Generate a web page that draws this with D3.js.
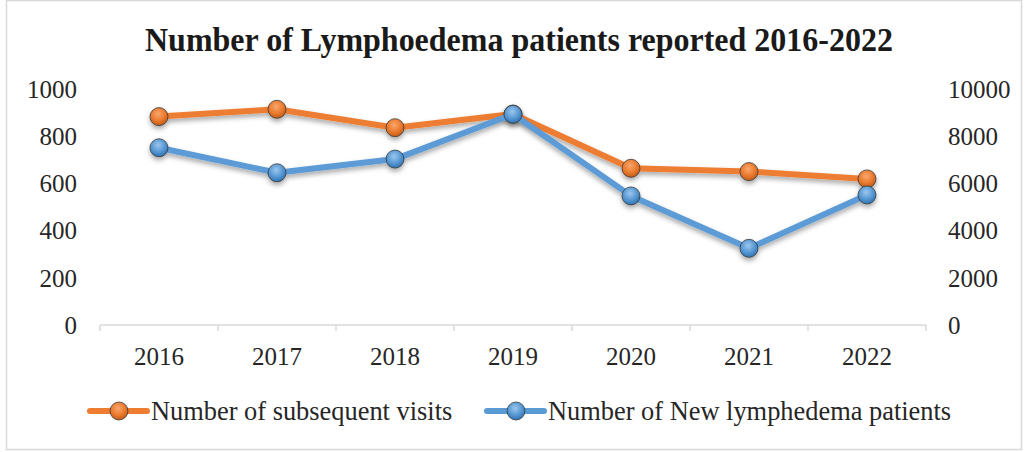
<!DOCTYPE html>
<html>
<head>
<meta charset="utf-8">
<script src="https://cdn.jsdelivr.net/npm/d3@7"></script>
<style>
  html, body { margin: 0; padding: 0; background: #fff; }
  svg { display: block; font-family: "Liberation Serif", "Times New Roman", serif; }
</style>
</head>
<body>
<div id="chart"></div>
<script>
const years = ['2016', '2017', '2018', '2019', '2020', '2021', '2022'];
const visits = [883, 914, 836, 894, 664, 650, 619];
const newPatients = [7510, 6450, 7030, 8930, 5470, 3250, 5510];
const leftTicks = [0, 200, 400, 600, 800, 1000];
const rightTicks = [0, 2000, 4000, 6000, 8000, 10000];
const seriesNames = ['Number of subsequent visits', 'Number of New lymphedema patients'];

const width = 1028;
const height = 452;
const plot = { left: 100, right: 926, top: 89, bottom: 325 };

const svg = d3.select('#chart').append('svg')
  .attr('width', width)
  .attr('height', height);

const defs = svg.append('defs');

const shadow = defs.append('filter')
  .attr('id', 'shadow')
  .attr('x', '-10%').attr('y', '-30%')
  .attr('width', '120%').attr('height', '160%');
shadow.append('feDropShadow')
  .attr('dx', 0).attr('dy', 3)
  .attr('stdDeviation', 2.5)
  .attr('flood-color', '#000')
  .attr('flood-opacity', 0.35);

function ballGradient(id, light, base, dark) {
  const g = defs.append('radialGradient')
    .attr('id', id)
    .attr('cx', '45%').attr('cy', '35%').attr('r', '65%');
  g.append('stop').attr('offset', '0%').attr('stop-color', light);
  g.append('stop').attr('offset', '55%').attr('stop-color', base);
  g.append('stop').attr('offset', '100%').attr('stop-color', dark);
}
ballGradient('ballOrange', '#f7a870', '#ed7d31', '#c45a15');
ballGradient('ballBlue', '#9cc6ee', '#5b9bd5', '#2f73b3');

// frame
svg.append('rect')
  .attr('x', 6.5).attr('y', 0.5)
  .attr('width', 1015).attr('height', 449)
  .attr('fill', '#fff')
  .attr('stroke', '#d9d9d9')
  .attr('stroke-width', 1.5);

svg.append('text')
  .attr('x', 519)
  .attr('y', 51)
  .attr('text-anchor', 'middle')
  .attr('font-size', 33)
  .attr('font-weight', 'bold')
  .attr('fill', '#1a1a1a')
  .attr('textLength', 748)
  .attr('lengthAdjust', 'spacingAndGlyphs')
  .text('Number of Lymphoedema patients reported 2016-2022');

const x = d3.scaleBand().domain(years).range([plot.left, plot.right]);
const yLeft = d3.scaleLinear().domain([0, 1000]).range([plot.bottom, plot.top]);
const yRight = d3.scaleLinear().domain([0, 10000]).range([plot.bottom, plot.top]);

// x axis
const xAxis = svg.append('g')
  .attr('transform', `translate(0,${plot.bottom})`);
xAxis.append('line')
  .attr('x1', plot.left).attr('x2', plot.right)
  .attr('stroke', '#d9d9d9').attr('stroke-width', 1.5);
xAxis.selectAll('line.tick')
  .data(years.concat(['end']))
  .join('line')
  .attr('class', 'tick')
  .attr('x1', (d, i) => i < years.length ? x(d) : plot.right)
  .attr('x2', (d, i) => i < years.length ? x(d) : plot.right)
  .attr('y1', 0).attr('y2', 6)
  .attr('stroke', '#d9d9d9').attr('stroke-width', 1.5);
xAxis.selectAll('text')
  .data(years)
  .join('text')
  .attr('x', d => x(d) + x.bandwidth() / 2)
  .attr('y', 40)
  .attr('text-anchor', 'middle')
  .attr('font-size', 25)
  .attr('fill', '#262626')
  .text(d => d);

// left y labels
svg.append('g').selectAll('text')
  .data(leftTicks)
  .join('text')
  .attr('x', 77)
  .attr('y', d => yLeft(d))
  .attr('dy', '0.35em')
  .attr('text-anchor', 'end')
  .attr('font-size', 25)
  .attr('fill', '#262626')
  .text(d => d);

// right y labels
svg.append('g').selectAll('text')
  .data(rightTicks)
  .join('text')
  .attr('x', 948)
  .attr('y', d => yRight(d))
  .attr('dy', '0.35em')
  .attr('text-anchor', 'start')
  .attr('font-size', 25)
  .attr('fill', '#262626')
  .text(d => d);

const series = [
  { name: seriesNames[0], values: visits, y: yLeft, color: '#ed7d31', ball: 'url(#ballOrange)' },
  { name: seriesNames[1], values: newPatients, y: yRight, color: '#5b9bd5', ball: 'url(#ballBlue)' }
];

const cx = d => x(d) + x.bandwidth() / 2;

series.forEach(s => {
  const line = d3.line()
    .x((d, i) => cx(years[i]))
    .y(d => s.y(d));
  const g = svg.append('g').attr('filter', 'url(#shadow)');
  g.append('path')
    .datum(s.values)
    .attr('d', line)
    .attr('fill', 'none')
    .attr('stroke', s.color)
    .attr('stroke-width', 6)
    .attr('stroke-linejoin', 'round');
  g.selectAll('circle')
    .data(s.values)
    .join('circle')
    .attr('cx', (d, i) => cx(years[i]))
    .attr('cy', d => s.y(d))
    .attr('r', 9)
    .attr('fill', s.ball)
    .attr('stroke', '#3a3a3a')
    .attr('stroke-width', 0.8);
});

// legend
const legendItems = [
  { x0: 90, name: seriesNames[0], color: '#ed7d31', ball: 'url(#ballOrange)' },
  { x0: 487, name: seriesNames[1], color: '#5b9bd5', ball: 'url(#ballBlue)' }
];
const legend = svg.append('g').attr('transform', 'translate(0,411)');
legendItems.forEach(item => {
  legend.append('line')
    .attr('x1', item.x0).attr('x2', item.x0 + 57)
    .attr('stroke', item.color)
    .attr('stroke-width', 6)
    .attr('stroke-linecap', 'round');
  legend.append('circle')
    .attr('cx', item.x0 + 29)
    .attr('r', 9)
    .attr('fill', item.ball)
    .attr('stroke', '#3a3a3a')
    .attr('stroke-width', 0.8);
  legend.append('text')
    .attr('x', item.x0 + 61)
    .attr('dy', '0.35em')
    .attr('font-size', 26.4)
    .attr('fill', '#262626')
    .text(item.name);
});
</script>
</body>
</html>
